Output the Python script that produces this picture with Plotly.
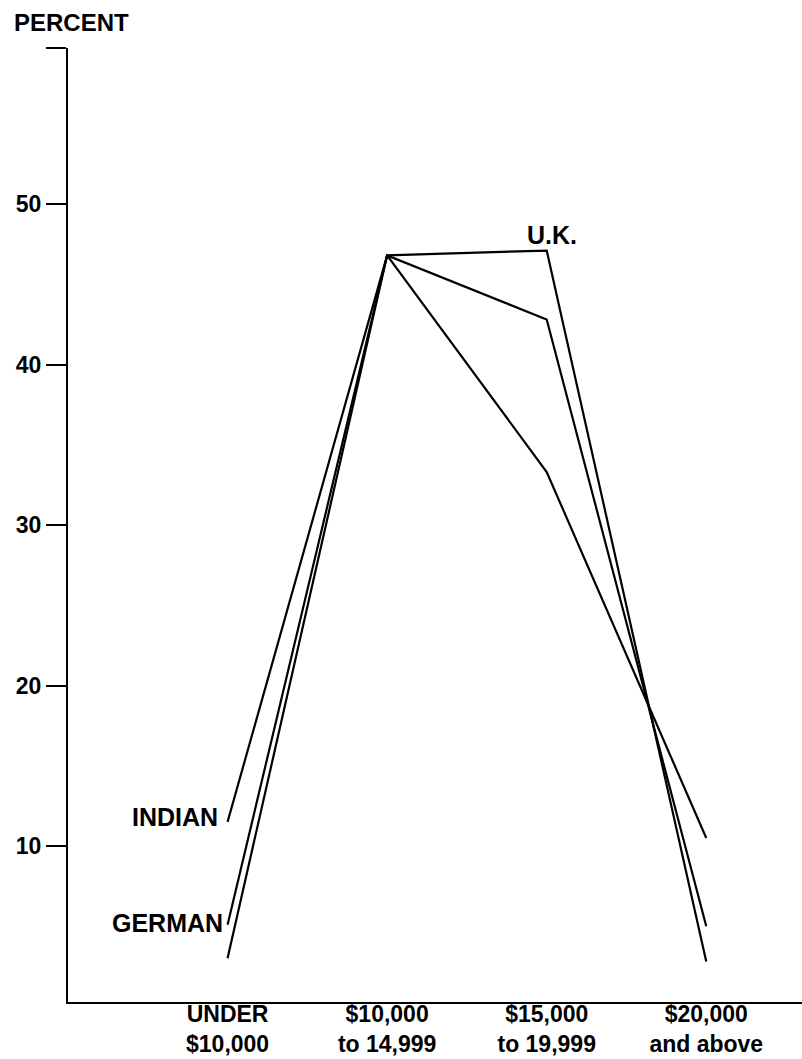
import plotly.graph_objects as go

categories = ["UNDER<br>$10,000", "$10,000<br>to 14,999", "$15,000<br>to 19,999", "$20,000<br>and above"]
indian = [11.5, 46.8, 33.3, 10.5]
german = [5.1, 46.8, 42.8, 5.0]
uk = [3.0, 46.8, 47.1, 2.8]
y_ticks = [10, 20, 30, 40, 50, 59.72]
y_ticktext = ["10", "20", "30", "40", "50", ""]

FONT = "Liberation Sans, Arial, Helvetica, sans-serif"

fig = go.Figure()
for name, vals in [("INDIAN", indian), ("GERMAN", german), ("U.K.", uk)]:
    fig.add_trace(go.Scatter(x=categories, y=vals, mode="lines", name=name,
                             line=dict(color="black", width=2.2), showlegend=False,
                             hoverinfo="skip"))

lab_font = dict(family=FONT, size=25, color="black", weight="bold")
fig.add_annotation(x=categories[0], y=indian[0], text="INDIAN", showarrow=False,
                   xanchor="right", yanchor="middle", xshift=-8, yshift=5, font=lab_font)
fig.add_annotation(x=categories[0], y=german[0], text="GERMAN", showarrow=False,
                   xanchor="right", yanchor="middle", xshift=-3, yshift=2, font=lab_font)
fig.add_annotation(x=categories[2], y=uk[2], text="U.K.", showarrow=False,
                   xanchor="center", yanchor="middle", xshift=5, yshift=16, font=lab_font)
fig.add_annotation(xref="paper", yref="paper", x=-0.0763, y=1.0267, text="PERCENT",
                   showarrow=False, xanchor="left", yanchor="middle",
                   font=dict(family=FONT, size=24, color="black", weight="bold"))

fig.update_layout(
    width=802, height=1059,
    margin=dict(l=68, r=0, t=48, b=57),
    paper_bgcolor="white", plot_bgcolor="white",
    font=dict(family=FONT, size=21, color="black"),
    hovermode=False,
    xaxis=dict(type="category", range=[-1.0, 3.6], showgrid=False, zeroline=False,
               automargin=False,
               showline=True, linecolor="black", linewidth=2, ticks="",
               ticklabelstandoff=-10,
               tickfont=dict(family=FONT, size=23, color="black", weight="bold")),
    yaxis=dict(range=[0.28, 59.72], showgrid=False, zeroline=False,
               automargin=False,
               showline=True, linecolor="black", linewidth=2,
               tickmode="array", tickvals=y_ticks, ticktext=y_ticktext,
               ticks="outside", ticklen=20, tickwidth=2, tickcolor="black",
               tickfont=dict(family=FONT, size=23, color="black", weight="bold")),
)

fig.write_html("out.html", config={"displayModeBar": False},
               post_script="document.body.style.margin='0';document.body.style.padding='0';")
